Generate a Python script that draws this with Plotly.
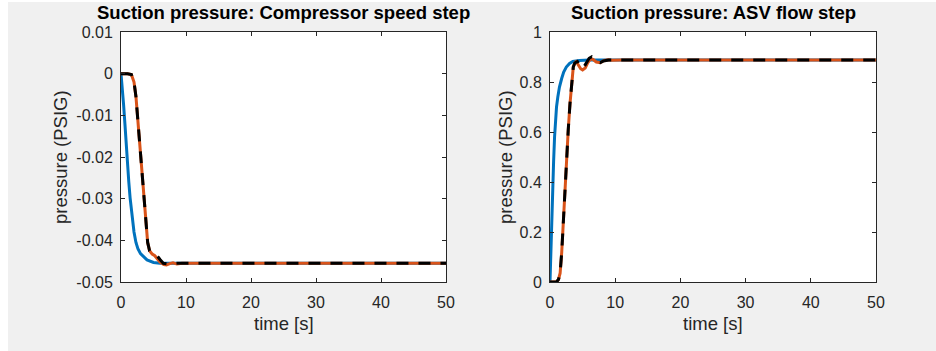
import plotly.graph_objects as go

# ---------------- data ----------------
# Left: compressor speed step
t_l_blue = [0, 0.2, 0.4, 0.6, 0.8, 1.0, 1.2, 1.4, 1.6, 1.8, 2.0, 2.3, 2.6, 3.0, 3.5, 4.0, 5.0, 6.0, 8.0, 50]
p_l_blue = [0, -0.003, -0.0075, -0.012, -0.0175, -0.022, -0.026, -0.0298, -0.033, -0.0358, -0.038, -0.0405,
            -0.042, -0.0432, -0.0440, -0.0447, -0.0453, -0.0455, -0.0455, -0.0455]

t_l_orange = [0, 1.0, 1.6, 2.0, 2.3, 2.6, 2.9, 3.2, 3.5, 3.8, 4.1, 4.4, 4.8, 5.2, 5.6, 6.0, 6.6, 7.0, 7.5, 8.0,
              8.6, 9.4, 50]
p_l_orange = [0, 0, -0.0002, -0.002, -0.0055, -0.0115, -0.0185, -0.0245, -0.0305, -0.036, -0.0405, -0.0425,
              -0.0433, -0.0437, -0.0445, -0.0452, -0.0458, -0.0459, -0.0456, -0.0454, -0.0457, -0.0455, -0.0455]

t_l_black = [0, 1.0, 1.6, 2.0, 2.3, 2.6, 2.9, 3.2, 3.5, 3.8, 4.1, 4.4, 5.0, 5.5, 6.0, 6.5, 7.0, 8.0, 50]
p_l_black = [0, 0, -0.0002, -0.002, -0.0055, -0.0115, -0.0185, -0.0245, -0.0305, -0.036, -0.0405, -0.0425,
             -0.0432, -0.0436, -0.0446, -0.0455, -0.0456, -0.0455, -0.0455]

# Right: ASV flow step
t_r_blue = [0, 0.1, 0.2, 0.3, 0.4, 0.55, 0.7, 0.85, 1.0, 1.2, 1.45, 1.8, 2.1, 2.5, 3.0, 3.5, 4.5, 6.0, 50]
p_r_blue = [0, 0.1, 0.22, 0.32, 0.39, 0.48, 0.58, 0.65, 0.70, 0.74, 0.78, 0.815, 0.84, 0.86, 0.874, 0.882,
            0.886, 0.888, 0.888]

t_r_orange = [0, 1.0, 1.3, 1.55, 1.8, 2.05, 2.3, 2.56, 2.8, 3.07, 3.3, 3.57, 3.8, 4.0, 4.3, 4.7, 5.0, 5.4, 5.8,
              6.2, 6.6, 7.1, 7.7, 8.3, 8.9, 9.5, 11, 50]
p_r_orange = [0, 0, 0.01, 0.035, 0.12, 0.25, 0.37, 0.49, 0.61, 0.715, 0.80, 0.86, 0.876, 0.881, 0.87, 0.853,
              0.848, 0.856, 0.878, 0.892, 0.89, 0.88, 0.877, 0.886, 0.889, 0.887, 0.888, 0.888]

t_r_black = [0, 1.0, 1.3, 1.55, 1.8, 2.05, 2.3, 2.56, 2.8, 3.07, 3.3, 3.57, 3.8, 4.0, 4.2, 4.5, 4.86, 5.2, 5.6,
             6.0, 6.4, 6.9, 7.4, 7.7, 8.2, 9.0, 50]
p_r_black = [0, 0, 0.01, 0.035, 0.12, 0.25, 0.37, 0.49, 0.61, 0.715, 0.80, 0.86, 0.876, 0.881, 0.882, 0.868,
             0.855, 0.86, 0.878, 0.895, 0.901, 0.89, 0.879, 0.877, 0.884, 0.888, 0.888]

x_ticks = [0, 10, 20, 30, 40, 50]
x_ticktext = ["0", "10", "20", "30", "40", "50"]
yl_ticks = [0.01, 0, -0.01, -0.02, -0.03, -0.04, -0.05]
yl_ticktext = ["0.01", "0", "-0.01", "-0.02", "-0.03", "-0.04", "-0.05"]
yr_ticks = [0, 0.2, 0.4, 0.6, 0.8, 1]
yr_ticktext = ["0", "0.2", "0.4", "0.6", "0.8", "1"]

titles = ["Suction pressure: Compressor speed step", "Suction pressure: ASV flow step"]
xlabel = "time [s]"
ylabel = "pressure (PSIG)"

# ---------------- styling ----------------
W, H = 936, 351
BLUE, ORANGE, BLACK = "#0072BD", "#D95319", "#000000"
AX = "#262626"
FONT = "Liberation Sans, Arial, Helvetica, sans-serif"
LW = 3

# axes pixel boxes
L = (121, 446)
R = (550, 876)
TOP, BOT = 32, 282


def fx(px):
    return px / W


def fy(py):
    return 1 - py / H


fig = go.Figure()

for xs, ys, color, dash, ax in [
    (t_l_blue, p_l_blue, BLUE, "solid", "1"),
    (t_l_orange, p_l_orange, ORANGE, "solid", "1"),
    (t_l_black, p_l_black, BLACK, "12px,10px", "1"),
    (t_r_blue, p_r_blue, BLUE, "solid", "2"),
    (t_r_orange, p_r_orange, ORANGE, "solid", "2"),
    (t_r_black, p_r_black, BLACK, "12px,10px", "2"),
]:
    fig.add_trace(go.Scatter(
        x=xs, y=ys, mode="lines",
        line=dict(color=color, width=LW, dash=dash),
        xaxis="x" if ax == "1" else "x2",
        yaxis="y" if ax == "1" else "y2",
        showlegend=False, hoverinfo="skip",
    ))

common = dict(
    showline=True, linecolor=AX, linewidth=1, mirror="ticks",
    ticks="inside", ticklen=4, tickcolor=AX, tickwidth=1,
    showgrid=False, zeroline=False, automargin=False,
    tickfont=dict(family=FONT, size=16, color=AX),
)

fig.update_layout(
    width=W, height=H,
    template="none",
    margin=dict(l=0, r=0, t=0, b=0),
    paper_bgcolor="#f0f0f0",
    plot_bgcolor="#ffffff",
    font=dict(family=FONT, color=AX),
    xaxis=dict(domain=[fx(L[0]), fx(L[1])], range=[0, 50], tickvals=x_ticks, ticktext=x_ticktext,
               anchor="y", ticklabelstandoff=6, **common),
    yaxis=dict(domain=[fy(BOT), fy(TOP)], range=[-0.05, 0.01], tickvals=yl_ticks, ticktext=yl_ticktext,
               anchor="x", ticklabelstandoff=4, **common),
    xaxis2=dict(domain=[fx(R[0]), fx(R[1])], range=[0, 50], tickvals=x_ticks, ticktext=x_ticktext,
                anchor="y2", ticklabelstandoff=6, **common),
    yaxis2=dict(domain=[fy(BOT), fy(TOP)], range=[0, 1], tickvals=yr_ticks, ticktext=yr_ticktext,
                anchor="x2", ticklabelstandoff=4, **common),
    shapes=[
        dict(type="rect", xref="paper", yref="paper", x0=0, x1=fx(8), y0=0, y1=1,
             fillcolor="#ffffff", line=dict(width=0), layer="below"),
        dict(type="rect", xref="paper", yref="paper", x0=0, x1=1, y0=fy(2), y1=1,
             fillcolor="#ffffff", line=dict(width=0), layer="below"),
    ],
)

ann = []
for (x0, x1), title in zip([L, R], titles):
    cx = (x0 + x1) / 2
    ann.append(dict(text="<b>%s</b>" % title, x=fx(cx), y=fy(13), xref="paper", yref="paper",
                    xanchor="center", yanchor="middle", showarrow=False,
                    font=dict(family=FONT, size=18.5, color="#000000")))
    ann.append(dict(text=xlabel, x=fx(cx), y=fy(323), xref="paper", yref="paper",
                    xanchor="center", yanchor="middle", showarrow=False,
                    font=dict(family=FONT, size=18.5, color=AX)))
for cx in [60, 505]:
    ann.append(dict(text=ylabel, x=fx(cx), y=fy((TOP + BOT) / 2), xref="paper", yref="paper",
                    xanchor="center", yanchor="middle", showarrow=False, textangle=-90,
                    font=dict(family=FONT, size=18.5, color=AX)))
fig.update_layout(annotations=ann)

fig.write_html("out.html")
